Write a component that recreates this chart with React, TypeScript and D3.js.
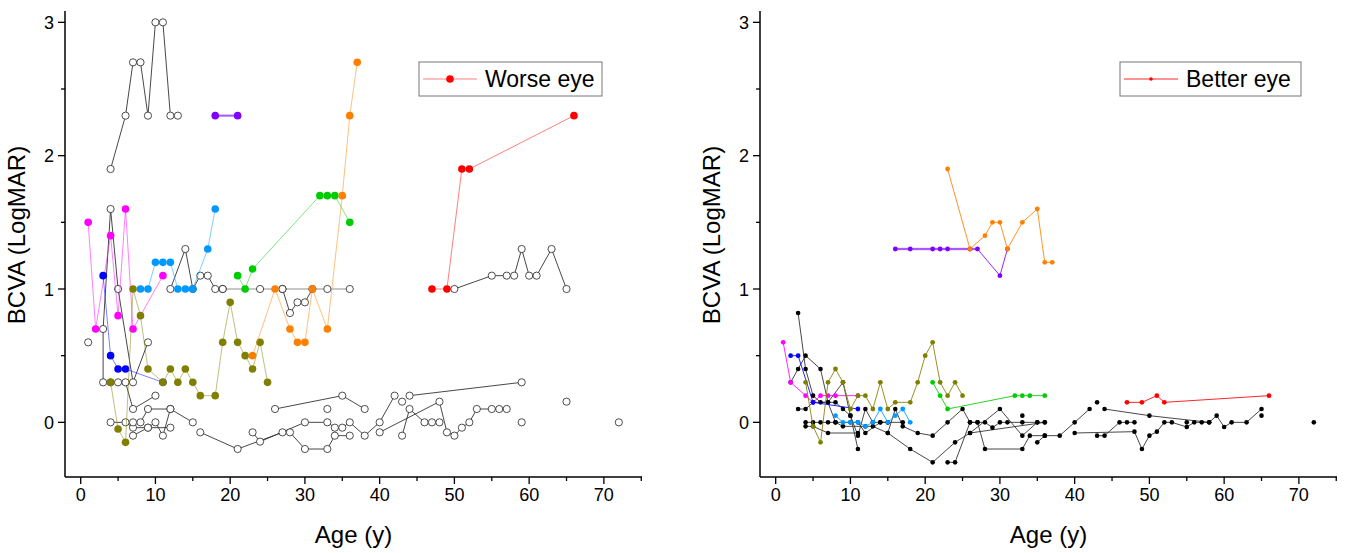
import React, { useRef, useEffect } from 'react';
import * as d3 from 'd3';

type Pt = [number, number];

const xTicks = [0, 10, 20, 30, 40, 50, 60, 70];
const xMinor = [5, 15, 25, 35, 45, 55, 65, 75];
const yTicks = [0, 1, 2, 3];
const yMinor = [0.5, 1.5, 2.5];

// ---- Worse eye: coloured patients (age, LogMAR)
const worseMagenta: Pt[] = [[1, 1.5], [2, 0.7], [4, 1.4], [5, 0.8], [6, 1.6], [7, 0.7], [11, 1.1]];
const worseBlue: Pt[] = [[3, 1.1], [4, 0.5], [5, 0.4], [6, 0.4], [11, 0.3]];
const worseOlive: Pt[] = [[4, 0.3], [5, -0.05], [6, -0.15], [7, 1.0], [8, 0.8], [9, 0.4], [11, 0.3], [12, 0.4], [13, 0.3], [14, 0.4], [15, 0.3], [16, 0.2], [18, 0.2], [19, 0.6], [20, 0.9], [21, 0.6], [22, 0.5], [23, 0.4], [24, 0.6], [25, 0.3]];
const worseCyan: Pt[] = [[8, 1.0], [9, 1.0], [10, 1.2], [11, 1.2], [12, 1.2], [13, 1.0], [14, 1.0], [15, 1.0], [17, 1.3], [18, 1.6]];
const worsePurple: Pt[] = [[18, 2.3], [21, 2.3]];
const worseGreen: Pt[] = [[21, 1.1], [22, 1.0], [23, 1.15], [32, 1.7], [33, 1.7], [34, 1.7], [36, 1.5]];
const worseOrange: Pt[] = [[23, 0.5], [26, 1.0], [28, 0.7], [29, 0.6], [30, 0.6], [31, 1.0], [33, 0.7], [35, 1.7], [36, 2.3], [37, 2.7]];
const worseRed: Pt[] = [[47, 1.0], [49, 1.0], [51, 1.9], [52, 1.9], [66, 2.3]];

// ---- Worse eye: open-circle patients
const worseOpen: Pt[][] = [
  [[4, 1.9], [6, 2.3], [7, 2.7], [8, 2.7], [9, 2.3], [10, 3], [11, 3], [12, 2.3], [13, 2.3]],
  [[1, 0.6]],
  [[3, 0.3], [3, 0.7], [4, 1.6], [5, 1.0], [7, 0.3], [9, 0.6]],
  [[4, 0.3], [5, 0.3], [6, 0.3], [7, 0.1], [10, 0.2]],
  [[8, 0], [9, 0.1], [12, 0.1], [15, 0]],
  [[4, 0], [6, 0], [7, -0.04], [9, -0.04], [12, -0.04]],
  [[7, -0.1], [9, -0.04], [10, 0], [11, -0.1], [12, 0.1]],
  [[7, 0]],
  [[12, 1], [14, 1.3], [15, 1], [16, 1.1], [17, 1.1], [18, 1], [19, 1]],
  [[27, 1], [28, 0.82], [29, 0.9], [30, 0.9], [31, 1]],
  [[16, -0.075], [21, -0.2], [27, -0.075], [28, -0.075], [30, -0.2], [33, -0.2], [34, -0.1], [36, -0.1]],
  [[23, -0.075], [24, -0.145], [30, 0], [33, 0], [34, -0.04], [35, -0.04], [36, 0], [38, -0.1], [40, 0], [42, 0.2]],
  [[26, 0.1], [35, 0.2], [38, 0.1]],
  [[33, 0.1]],
  [[40, -0.075], [48, 0.155], [49, -0.075], [50, -0.1], [51, -0.04], [52, 0], [53, 0.1], [55, 0.1], [56, 0.1], [57, 0.1]],
  [[43, -0.1], [44, 0.1], [46, 0], [47, 0], [48, 0]],
  [[43, 0.155]],
  [[44, 0.2], [59, 0.3]],
  [[59, 0]],
  [[65, 0.155]],
  [[72, 0]],
  [[50, 1], [55, 1.1], [57, 1.1], [58, 1.1], [59, 1.3], [60, 1.1], [61, 1.1], [63, 1.3], [65, 1]],
];
const worseGrey: Pt[] = [[19, 1], [24, 1], [27, 1], [33, 1], [36, 1]];

// ---- Better eye: coloured patients
const betterMagenta: Pt[] = [[1, 0.6], [2, 0.3], [4, 0.2], [5, 0.15], [6, 0.2], [7, 0.2], [8, 0.2], [11, 0.2]];
const betterBlue: Pt[] = [[2, 0.5], [3, 0.5], [5, 0.15], [11, 0.1]];
const betterOlive: Pt[] = [[4, 0.3], [5, -0.03], [6, -0.15], [7, 0.3], [8, 0.4], [9, 0.3], [10, 0.1], [11, 0.2], [12, 0.2], [13, 0.1], [14, 0.3], [15, 0.1], [16, 0.15], [18, 0.15], [19, 0.3], [20, 0.5], [21, 0.6], [22, 0.3], [23, 0.2], [24, 0.3], [25, 0.2]];
const betterCyan: Pt[] = [[8, 0.05], [9, 0], [10, 0], [11, 0], [12, -0.03], [13, 0], [14, 0.1], [15, 0], [16, 0.05], [17, 0.1], [18, 0]];
const betterPurple: Pt[] = [[16, 1.3], [18, 1.3], [21, 1.3], [22, 1.3], [23, 1.3], [26, 1.3], [27, 1.3], [30, 1.1], [31, 1.3]];
const betterGreen: Pt[] = [[21, 0.3], [22, 0.2], [23, 0.1], [32, 0.2], [33, 0.2], [34, 0.2], [36, 0.2]];
const betterOrange: Pt[] = [[23, 1.9], [26, 1.3], [28, 1.4], [29, 1.5], [30, 1.5], [31, 1.3], [33, 1.5], [35, 1.6], [36, 1.2], [37, 1.2]];
const betterRed: Pt[] = [[47, 0.15], [49, 0.15], [51, 0.2], [52, 0.15], [66, 0.2]];

// ---- Better eye: black patients
const betterBlack: Pt[][] = [
  [[3, 0.82], [4, 0.4], [5, 0.2], [6, 0.15], [8, 0.15], [9, 0.1], [10, 0.05], [11, -0.1], [12, 0.1], [13, 0], [14, 0], [15, 0], [17, 0]],
  [[2, 0.3], [3, 0.4], [4, 0.5], [6, 0.4], [7, 0.15], [8, 0], [9, -0.03], [12, -0.03], [13, -0.03], [15, -0.08], [16, 0.1], [17, -0.03], [19, -0.08], [21, -0.1], [23, 0], [25, 0.1], [26, 0], [27, 0], [28, -0.2], [33, -0.2], [34, -0.1], [36, -0.1], [38, -0.1], [40, 0], [42, 0.1]],
  [[3, 0.1], [4, 0.1], [5, 0.15], [7, 0.15], [9, 0.3], [10, 0.05], [11, -0.2]],
  [[4, 0], [5, 0], [6, 0], [7, 0], [8, 0], [10, 0], [11, 0], [12, -0.08], [14, 0], [15, 0]],
  [[4, -0.03], [5, -0.03], [7, -0.08], [11, -0.08]],
  [[15, -0.08], [18, -0.2], [21, -0.3], [24, -0.15], [26, -0.08], [30, 0.1], [33, -0.1], [35, 0], [36, 0]],
  [[23, -0.3], [24, -0.3], [26, 0], [27, 0], [28, 0], [29, -0.04], [30, 0], [31, 0], [33, 0], [35, 0]],
  [[26, -0.08], [36, 0]],
  [[33, 0.05]],
  [[35, -0.15], [36, -0.1]],
  [[40, -0.08], [48, -0.07], [49, -0.2], [50, -0.1], [51, -0.07], [52, 0], [53, 0], [55, -0.035], [56, 0], [57, 0], [58, 0], [59, 0.05], [60, -0.035], [61, 0], [63, 0], [65, 0.1]],
  [[43, -0.1], [44, -0.1], [46, 0], [47, 0], [48, 0]],
  [[43, 0.15]],
  [[44, 0.1], [50, 0.05], [58, 0]],
  [[55, 0]],
  [[65, 0.05]],
  [[72, 0]],
];

const FONT = "Arial, 'Liberation Sans', sans-serif";
const TOP = 11;
const BOTTOM = 477;

const App = () => {
  const svgRef = useRef<SVGSVGElement>(null);

  useEffect(() => {
    const svg = d3.select(svgRef.current);
    svg.selectAll('*').remove();

    const y = d3.scaleLinear().domain([-0.41, 3.085]).range([BOTTOM, TOP]);

    const panels = [
      {
        left: 65, right: 642, legend: 'Worse eye', legendX: 419, legendW: 183,
        black: worseOpen, grey: worseGrey, open: true,
        colored: [
          { pts: worseMagenta, c: '#ff00ff' },
          { pts: worseBlue, c: '#0000ff' },
          { pts: worseOlive, c: '#808000' },
          { pts: worseCyan, c: '#0099ff' },
          { pts: worsePurple, c: '#8000ff' },
          { pts: worseGreen, c: '#00cc00' },
          { pts: worseOrange, c: '#ff8000' },
          { pts: worseRed, c: '#ff0000' },
        ],
      },
      {
        left: 760, right: 1337, legend: 'Better eye', legendX: 1120, legendW: 181,
        black: betterBlack, grey: [] as Pt[], open: false,
        colored: [
          { pts: betterMagenta, c: '#ff00ff' },
          { pts: betterBlue, c: '#0000ff' },
          { pts: betterOlive, c: '#808000' },
          { pts: betterCyan, c: '#0099ff' },
          { pts: betterPurple, c: '#8000ff' },
          { pts: betterGreen, c: '#00cc00' },
          { pts: betterOrange, c: '#ff8000' },
          { pts: betterRed, c: '#ff0000' },
        ],
      },
    ];

    panels.forEach(p => {
      const x = d3.scaleLinear().domain([-2.1, 75.1]).range([p.left, p.right]);
      const line = d3.line<Pt>().x(d => x(d[0])).y(d => y(d[1]));
      const g = svg.append('g');

      // grey reference series
      if (p.grey.length) {
        g.append('path').attr('d', line(p.grey)).attr('fill', 'none')
          .attr('stroke', '#b5b5b5').attr('stroke-width', 1.6);
      }

      // black patients
      p.black.forEach(s => {
        g.append('path').attr('d', line(s)).attr('fill', 'none')
          .attr('stroke', '#333').attr('stroke-width', p.open ? 0.9 : 0.9);
      });
      p.black.forEach(s => {
        g.selectAll(null).data(s).enter().append('circle')
          .attr('cx', d => x(d[0])).attr('cy', d => y(d[1]))
          .attr('r', p.open ? 3.6 : 2.3)
          .attr('fill', p.open ? '#fff' : '#000')
          .attr('stroke', p.open ? '#222' : 'none')
          .attr('stroke-width', 0.8);
      });
      if (p.grey.length) {
        g.selectAll(null).data(p.grey).enter().append('circle')
          .attr('cx', d => x(d[0])).attr('cy', d => y(d[1])).attr('r', 3.6)
          .attr('fill', '#fff').attr('stroke', '#222').attr('stroke-width', 0.8);
      }

      // coloured patients
      p.colored.forEach(s => {
        const purple = s.c === '#8000ff';
        if (purple) {
          const part = p.open ? s.pts : s.pts.slice(0, 7);
          g.append('path').attr('d', line(part)).attr('fill', 'none')
            .attr('stroke', '#c49bff').attr('stroke-width', 2.6);
        }
        g.append('path').attr('d', line(s.pts)).attr('fill', 'none')
          .attr('stroke', s.c)
          .attr('stroke-opacity', p.open ? 0.5 : 0.85)
          .attr('stroke-width', 1);
        g.selectAll(null).data(s.pts).enter().append('circle')
          .attr('cx', d => x(d[0])).attr('cy', d => y(d[1]))
          .attr('r', p.open ? 3.8 : 2.4)
          .attr('fill', s.c);
      });

      // axes
      const ax = svg.append('g').attr('stroke', '#000');
      ax.append('line').attr('x1', p.left).attr('x2', p.left).attr('y1', TOP).attr('y2', BOTTOM).attr('stroke-width', 1.5);
      ax.append('line').attr('x1', p.left).attr('x2', p.right).attr('y1', BOTTOM).attr('y2', BOTTOM).attr('stroke-width', 1.5);
      xTicks.forEach(t => {
        ax.append('line').attr('x1', x(t)).attr('x2', x(t)).attr('y1', BOTTOM).attr('y2', BOTTOM + 7).attr('stroke-width', 1.3);
      });
      xMinor.forEach(t => {
        ax.append('line').attr('x1', x(t)).attr('x2', x(t)).attr('y1', BOTTOM).attr('y2', BOTTOM + 4).attr('stroke-width', 1.3);
      });
      yTicks.forEach(t => {
        ax.append('line').attr('x1', p.left - 7).attr('x2', p.left).attr('y1', y(t)).attr('y2', y(t)).attr('stroke-width', 1.3);
      });
      yMinor.forEach(t => {
        ax.append('line').attr('x1', p.left - 4).attr('x2', p.left).attr('y1', y(t)).attr('y2', y(t)).attr('stroke-width', 1.3);
      });

      const txt = svg.append('g').attr('font-family', FONT).attr('fill', '#000');
      xTicks.forEach(t => {
        txt.append('text').attr('x', x(t)).attr('y', BOTTOM + 24).attr('text-anchor', 'middle')
          .attr('font-size', 18).text(String(t));
      });
      yTicks.forEach(t => {
        txt.append('text').attr('x', p.left - 11).attr('y', y(t) + 6.5).attr('text-anchor', 'end')
          .attr('font-size', 18).text(String(t));
      });
      txt.append('text').attr('x', (p.left + p.right) / 2).attr('y', 543).attr('text-anchor', 'middle')
        .attr('font-size', 24).text('Age (y)');
      txt.append('text')
        .attr('transform', `translate(${p.left - 40},${235}) rotate(-90)`)
        .attr('text-anchor', 'middle').attr('font-size', 24).text('BCVA (LogMAR)');

      // legend
      const lg = svg.append('g');
      lg.append('rect').attr('x', p.legendX).attr('y', 62).attr('width', p.legendW).attr('height', 34)
        .attr('fill', '#fff').attr('stroke', '#777').attr('stroke-width', 1);
      lg.append('line').attr('x1', p.legendX + 4).attr('x2', p.legendX + 58).attr('y1', 79).attr('y2', 79)
        .attr('stroke', '#ff0000').attr('stroke-opacity', p.open ? 0.5 : 0.85).attr('stroke-width', 1);
      lg.append('circle').attr('cx', p.legendX + 31).attr('cy', 79).attr('r', p.open ? 3.8 : 1.8).attr('fill', '#ff0000');
      lg.append('text').attr('x', p.legendX + 66).attr('y', 87).attr('font-family', FONT)
        .attr('font-size', 23).text(p.legend);
    });
  }, []);

  return (
    <svg ref={svgRef} width={1347} height={553}
      style={{ position: 'absolute', left: 0, top: 0, background: '#fff' }} />
  );
};

export default App;
